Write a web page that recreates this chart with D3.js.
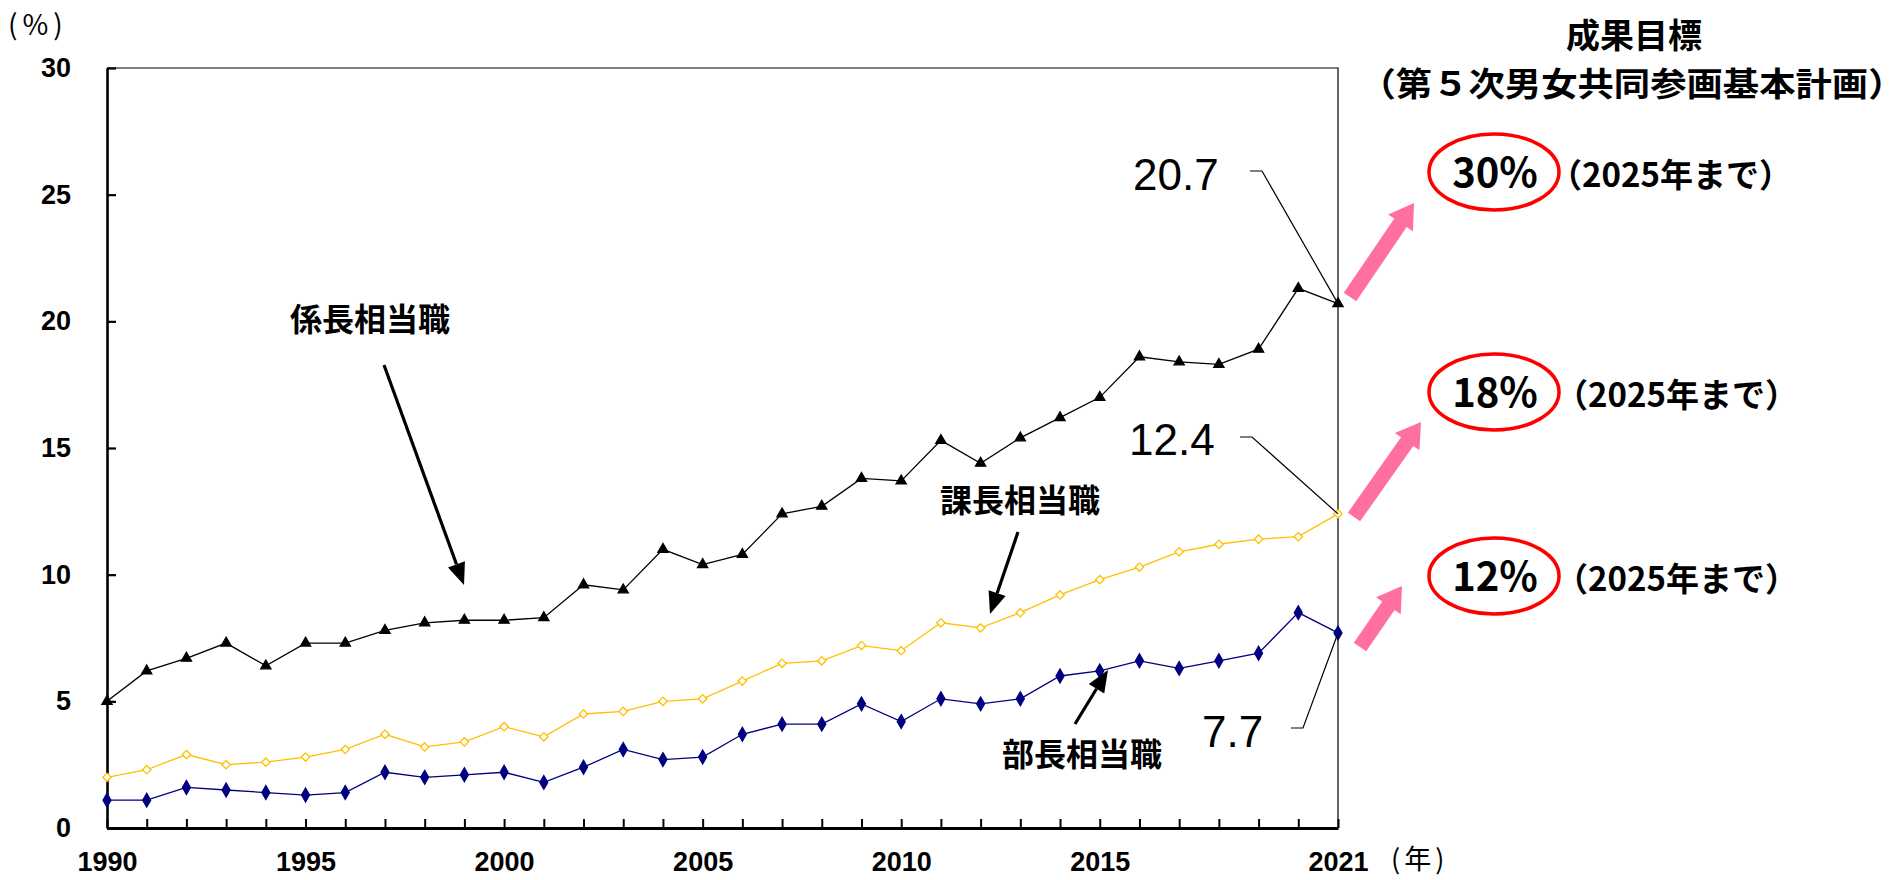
<!DOCTYPE html>
<html>
<head>
<meta charset="utf-8">
<script src="https://cdn.jsdelivr.net/npm/d3@7"></script>
<style>
  body { margin: 0; background: #fff; }
  svg { display: block; }
</style>
</head>
<body>
<svg width="1897" height="880"></svg>
<script>
// годы по оси OX
const years = d3.range(1990, 2022);
const yearLabels = [1990, 1995, 2000, 2005, 2010, 2015, 2021];
const yTicks = [0, 5, 10, 15, 20, 25, 30];

// 係長相当職
const kakaricho = [5.0, 6.2, 6.7, 7.3, 6.4, 7.3, 7.3, 7.8, 8.1, 8.2, 8.2, 8.3, 9.6, 9.4, 11.0, 10.4,
                   10.8, 12.4, 12.7, 13.8, 13.7, 15.3, 14.4, 15.4, 16.2, 17.0, 18.6, 18.4, 18.3, 18.9, 21.3, 20.7];
// 課長相当職
const kacho = [2.0, 2.3, 2.9, 2.5, 2.6, 2.8, 3.1, 3.7, 3.2, 3.4, 4.0, 3.6, 4.5, 4.6, 5.0, 5.1,
               5.8, 6.5, 6.6, 7.2, 7.0, 8.1, 7.9, 8.5, 9.2, 9.8, 10.3, 10.9, 11.2, 11.4, 11.5, 12.4];
// 部長相当職
const bucho = [1.1, 1.1, 1.6, 1.5, 1.4, 1.3, 1.4, 2.2, 2.0, 2.1, 2.2, 1.8, 2.4, 3.1, 2.7, 2.8,
               3.7, 4.1, 4.1, 4.9, 4.2, 5.1, 4.9, 5.1, 6.0, 6.2, 6.6, 6.3, 6.6, 6.9, 8.5, 7.7];

// цели
const targets = ["30%", "18%", "12%"];
const targetNote = "（2025年まで）";

const JP = "'Noto Sans CJK JP', sans-serif";
const NUM = "'Liberation Sans', Arial, sans-serif";

let svg = d3.select("svg");

let attr_area = { left: 107, right: 1338, top: 68, bottom: 828 };

function createAxis(svg, attr_area) {
    let scaleX = d3.scaleLinear().domain([1990, 2021]).range([attr_area.left, attr_area.right]);
    let scaleY = d3.scaleLinear().domain([0, 30]).range([attr_area.bottom, attr_area.top]);

    // рамка сверху и справа
    svg.append("path")
        .attr("d", `M${attr_area.left},${attr_area.top}H${attr_area.right}V${attr_area.bottom}`)
        .attr("fill", "none")
        .attr("stroke", "#000")
        .attr("stroke-width", 1.2);

    let axisY = d3.axisLeft(scaleY).tickValues(yTicks).tickSizeInner(-9).tickSizeOuter(0).tickPadding(36);
    let gy = svg.append("g")
        .attr("transform", `translate(${attr_area.left}, 0)`)
        .call(axisY);
    gy.select(".domain").attr("stroke-width", 2.6);
    gy.selectAll(".tick line").attr("stroke-width", 2.2);
    gy.selectAll("text").style("font-family", NUM).style("font-weight", "bold")
        .style("font-size", "27px").attr("fill", "#000");

    let axisX = d3.axisBottom(scaleX).tickValues(years).tickSizeInner(-9).tickSizeOuter(0).tickPadding(24)
        .tickFormat(d => yearLabels.includes(d) ? d : "");
    let gx = svg.append("g")
        .attr("transform", `translate(0, ${attr_area.bottom})`)
        .call(axisX);
    gx.select(".domain").attr("stroke-width", 3.2);
    gx.selectAll(".tick line").attr("stroke-width", 2);
    gx.selectAll("text").style("font-family", NUM).style("font-weight", "bold")
        .style("font-size", "27px").attr("fill", "#000");

    return [scaleX, scaleY];
}

function createLine(svg, values, scaleX, scaleY, color, symbol, size, fill) {
    let data = years.map((y, i) => ({ year: y, value: values[i] }));
    let line = d3.line().x(d => scaleX(d.year)).y(d => scaleY(d.value));
    svg.append("path")
        .datum(data)
        .attr("d", line)
        .attr("fill", "none")
        .attr("stroke", color)
        .attr("stroke-width", 1.3);
    svg.selectAll(null)
        .data(data)
        .enter()
        .append("path")
        .attr("d", d3.symbol(symbol, size))
        .attr("transform", d => `translate(${scaleX(d.year)}, ${scaleY(d.value)})`)
        .attr("fill", fill)
        .attr("stroke", color)
        .attr("stroke-width", 1.3);
}

function arrow(svg, x1, y1, x2, y2) {
    let a = Math.atan2(y2 - y1, x2 - x1);
    let len = 22, w = 9;
    let bx = x2 - len * Math.cos(a), by = y2 - len * Math.sin(a);
    svg.append("line")
        .attr("x1", x1).attr("y1", y1).attr("x2", bx).attr("y2", by)
        .attr("stroke", "#000").attr("stroke-width", 3.2);
    svg.append("path")
        .attr("d", `M${x2},${y2}L${bx + w * Math.sin(a)},${by - w * Math.cos(a)}L${bx - w * Math.sin(a)},${by + w * Math.cos(a)}Z`)
        .attr("fill", "#000");
}

function pinkArrow(svg, x1, y1, x2, y2) {
    let a = Math.atan2(y2 - y1, x2 - x1);
    let len = 24, hw = 15, sw = 7.5;
    let px = Math.sin(a), py = -Math.cos(a);
    let bx = x2 - len * Math.cos(a), by = y2 - len * Math.sin(a);
    let pts = [
        [x1 + sw * px, y1 + sw * py], [bx + sw * px, by + sw * py], [bx + hw * px, by + hw * py],
        [x2, y2],
        [bx - hw * px, by - hw * py], [bx - sw * px, by - sw * py], [x1 - sw * px, y1 - sw * py]
    ];
    svg.append("path")
        .attr("d", "M" + pts.map(p => p.join(",")).join("L") + "Z")
        .attr("fill", "#FF6FA0");
}

function leader(svg, lx, ly, px, py) {
    svg.append("path")
        .attr("d", `M${lx},${ly}H${lx + 12}L${px},${py}`)
        .attr("fill", "none")
        .attr("stroke", "#000")
        .attr("stroke-width", 1.2);
}

function drawGraph() {
    const [scX, scY] = createAxis(svg, attr_area);

    createLine(svg, bucho, scX, scY, "#000080", d3.symbolDiamond, 55, "#000080");
    createLine(svg, kacho, scX, scY, "#FFC000", d3.symbolDiamond2, 45, "#fff");
    createLine(svg, kakaricho, scX, scY, "#000", d3.symbolTriangle, 45, "#000");

    // единицы
    svg.append("text").attr("x", 8).attr("y", 35).text("(%)")
        .style("letter-spacing", "5px")
        .style("font-family", JP).style("font-size", "28px");
    svg.append("text").attr("x", 1391).attr("y", 869).text("(年)")
        .style("letter-spacing", "4px")
        .style("font-family", JP).style("font-size", "27px");

    // подписи рядов
    const catStyle = s => s.style("font-family", JP).style("font-weight", "bold").style("font-size", "32px");
    svg.append("text").attr("x", 290).attr("y", 331).text("係長相当職").call(catStyle);
    svg.append("text").attr("x", 940).attr("y", 512).text("課長相当職").call(catStyle);
    svg.append("text").attr("x", 1002).attr("y", 766).text("部長相当職").call(catStyle);
    arrow(svg, 384, 365, 464, 585);
    arrow(svg, 1018, 532, 990, 614);
    arrow(svg, 1075, 724, 1108, 670);

    // значения 2021
    const last = years.length - 1;
    const valStyle = s => s.style("font-family", NUM).style("font-size", "44px");
    svg.append("text").attr("x", 1133).attr("y", 190).text(kakaricho[last].toFixed(1)).call(valStyle);
    svg.append("text").attr("x", 1129).attr("y", 455).text(kacho[last].toFixed(1)).call(valStyle);
    svg.append("text").attr("x", 1202).attr("y", 747).text(bucho[last].toFixed(1)).call(valStyle);
    leader(svg, 1250, 171, scX(2021), scY(kakaricho[last]));
    leader(svg, 1240, 437, scX(2021), scY(kacho[last]));
    leader(svg, 1291, 728, scX(2021), scY(bucho[last]));

    // целевые значения
    svg.append("text").attr("x", 1634).attr("y", 48).attr("text-anchor", "middle")
        .text("成果目標").style("font-family", JP).style("font-weight", "bold").style("font-size", "34px");
    svg.append("text").attr("x", 1632).attr("y", 96).attr("text-anchor", "middle")
        .attr("textLength", 545).attr("lengthAdjust", "spacingAndGlyphs")
        .text("（第５次男女共同参画基本計画）").style("font-family", JP).style("font-weight", "bold").style("font-size", "33px");

    const tY = [172, 392, 576];
    const tip = [[1350, 297, 1414, 203], [1354, 517, 1421, 422], [1360, 647, 1402, 586]];
    targets.forEach((t, i) => {
        svg.append("ellipse").attr("cx", 1494).attr("cy", tY[i]).attr("rx", 65).attr("ry", 38)
            .attr("fill", "none").attr("stroke", "#FF0000").attr("stroke-width", 3.5);
        svg.append("text").attr("x", 1495).attr("y", tY[i] + 15).attr("text-anchor", "middle").text(t)
            .style("font-family", JP).style("font-weight", "bold").style("font-size", "40px");
        svg.append("text").attr("x", 1549 + (i > 0 ? 6 : 0)).attr("y", tY[i] + 15).text(targetNote)
            .style("font-family", JP).style("font-weight", "bold").style("font-size", "33px");
        pinkArrow(svg, ...tip[i]);
    });
}

drawGraph();
</script>
</body>
</html>
